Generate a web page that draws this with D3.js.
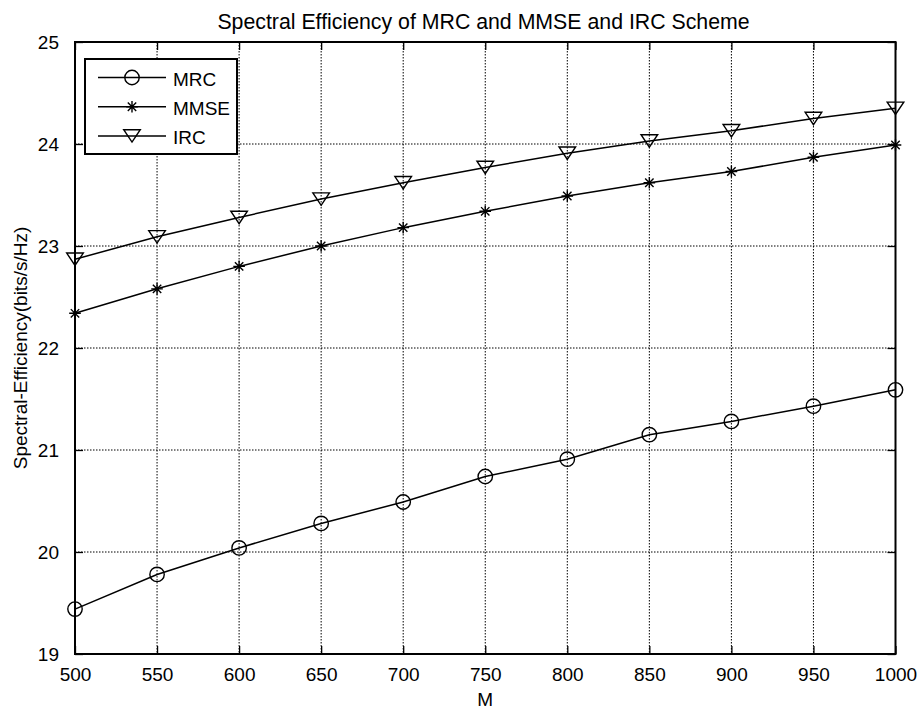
<!DOCTYPE html>
<html>
<head>
<meta charset="utf-8">
<script src="https://cdn.jsdelivr.net/npm/d3@7"></script>
<style>
  body { margin: 0; background: #fff; }
  svg { display: block; }
  text { font-family: Arial, "Liberation Sans", Helvetica, sans-serif; fill: #000; }
</style>
</head>
<body>
<svg id="chart" width="918" height="709"></svg>
<script>
const M = [500, 550, 600, 650, 700, 750, 800, 850, 900, 950, 1000];
const MRC = [19.44, 19.78, 20.04, 20.28, 20.49, 20.74, 20.91, 21.15, 21.28, 21.43, 21.59];
const MMSE = [22.34, 22.58, 22.80, 23.00, 23.18, 23.34, 23.49, 23.62, 23.73, 23.87, 23.99];
const IRC = [22.87, 23.09, 23.28, 23.46, 23.62, 23.77, 23.91, 24.03, 24.13, 24.25, 24.35];
const xTicks = [500, 550, 600, 650, 700, 750, 800, 850, 900, 950, 1000];
const yTicks = [19, 20, 21, 22, 23, 24, 25];
const seriesNames = ["MRC", "MMSE", "IRC"];
const markerTypes = ["circle", "star", "triangle"];
const title = "Spectral Efficiency of MRC and MMSE and IRC Scheme";
const xLabel = "M";
const yLabel = "Spectral-Efficiency(bits/s/Hz)";

const svg = d3.select("#chart");
const L = 75, R = 895.5, T = 42, B = 654;
const x = d3.scaleLinear().domain([500, 1000]).range([L, R]);
const y = d3.scaleLinear().domain([19, 25]).range([B, T]);
const FS = 19;

// grid
const grid = svg.append("g").attr("stroke", "#000").attr("stroke-width", 1).attr("stroke-dasharray", "1.5,1.5");
grid.selectAll("line.v").data(xTicks.slice(1, -1)).join("line")
  .attr("x1", d => x(d)).attr("x2", d => x(d)).attr("y1", T).attr("y2", B);
grid.selectAll("line.h").data(yTicks.slice(1, -1)).join("line")
  .attr("y1", d => y(d)).attr("y2", d => y(d)).attr("x1", L).attr("x2", R);

// axes with inward ticks on all sides
const tl = 8;
const axB = svg.append("g").attr("transform", `translate(0,${B})`)
  .call(d3.axisBottom(x).tickValues(xTicks).tickSize(-tl).tickPadding(tl + 6).tickFormat(d3.format("d")));
const axT = svg.append("g").attr("transform", `translate(0,${T})`)
  .call(d3.axisTop(x).tickValues(xTicks).tickSize(-tl).tickFormat(""));
const axL = svg.append("g").attr("transform", `translate(${L},0)`)
  .call(d3.axisLeft(y).tickValues(yTicks).tickSize(-tl).tickPadding(tl + 8).tickFormat(d3.format("d")));
const axR = svg.append("g").attr("transform", `translate(${R},0)`)
  .call(d3.axisRight(y).tickValues(yTicks).tickSize(-tl).tickFormat(""));
[axB, axT, axL, axR].forEach(a => {
  a.select(".domain").remove();
  a.selectAll(".tick line").attr("stroke", "#000").attr("stroke-width", 1.3);
  a.selectAll("text").attr("font-size", FS).attr("font-family", "Arial, 'Liberation Sans', sans-serif").attr("fill", "#000");
});
axB.selectAll("text").attr("dy", "0.71em");
svg.append("rect").attr("x", L).attr("y", T).attr("width", R - L).attr("height", B - T)
  .attr("fill", "none").attr("stroke", "#000").attr("stroke-width", 2);

// marker drawing
function drawMarker(g, type, cx, cy) {
  if (type === "circle") {
    g.append("circle").attr("cx", cx).attr("cy", cy).attr("r", 7.2)
      .attr("fill", "none").attr("stroke", "#000").attr("stroke-width", 1.4);
  } else if (type === "star") {
    const s = 5.8, d = 4.2;
    const p = `M${cx},${cy - s}L${cx},${cy + s}M${cx - s},${cy}L${cx + s},${cy}` +
      `M${cx - d},${cy - d}L${cx + d},${cy + d}M${cx - d},${cy + d}L${cx + d},${cy - d}`;
    g.append("path").attr("d", p).attr("fill", "none").attr("stroke", "#000").attr("stroke-width", 1.4);
  } else {
    const w = 8.3, h = 6.2;
    g.append("path").attr("d", `M${cx - w},${cy - h}L${cx + w},${cy - h}L${cx},${cy + h}Z`)
      .attr("fill", "none").attr("stroke", "#000").attr("stroke-width", 1.4).attr("stroke-linejoin", "miter");
  }
}

const allSeries = [MRC, MMSE, IRC];
const line = d3.line().x((d, i) => x(M[i])).y(d => y(d));
allSeries.forEach((s, k) => {
  const g = svg.append("g");
  g.append("path").datum(s).attr("d", line).attr("fill", "none").attr("stroke", "#000").attr("stroke-width", 1.5);
  s.forEach((v, i) => drawMarker(g, markerTypes[k], x(M[i]), y(v)));
});

// legend
const lg = svg.append("g");
lg.append("rect").attr("x", 85).attr("y", 59).attr("width", 152).attr("height", 95)
  .attr("fill", "#fff").attr("stroke", "#000").attr("stroke-width", 2);
seriesNames.forEach((n, k) => {
  const ly = 77.5 + k * 29.2;
  lg.append("line").attr("x1", 98).attr("x2", 166).attr("y1", ly).attr("y2", ly)
    .attr("stroke", "#000").attr("stroke-width", 1.5);
  drawMarker(lg, markerTypes[k], 132, ly);
  lg.append("text").attr("x", 173).attr("y", ly + 8.5).attr("font-size", FS).text(n);
});

// titles
svg.append("text").attr("x", 483.5).attr("y", 28.5).attr("text-anchor", "middle").attr("font-size", 21.3).text(title);
svg.append("text").attr("x", (L + R) / 2).attr("y", 706).attr("text-anchor", "middle").attr("font-size", FS).text(xLabel);
svg.append("text").attr("transform", `translate(27,${(T + B) / 2}) rotate(-90)`).attr("text-anchor", "middle")
  .attr("font-size", FS).text(yLabel);
</script>
</body>
</html>
